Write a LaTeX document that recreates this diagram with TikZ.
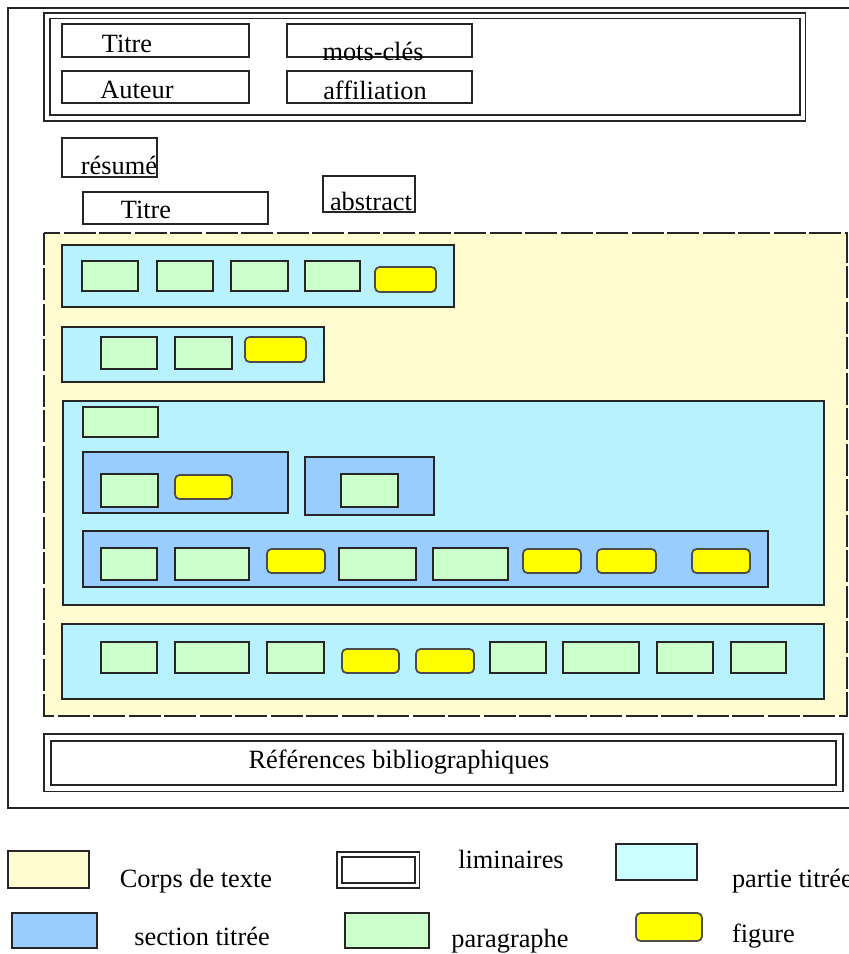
\documentclass[tikz,border=0pt]{standalone}
\usepackage{fontspec}
\setmainfont{Liberation Serif}
\usepackage{tikz}
\definecolor{corpsfond}{HTML}{FFFCD2}
\definecolor{partiefond}{HTML}{B8F2FF}
\definecolor{partieleg}{HTML}{CCFFFF}
\definecolor{sectfond}{HTML}{99CCFF}
\definecolor{parafond}{HTML}{CCFFCC}
\definecolor{figfond}{HTML}{FFFF00}
\xdef\LWB{1pt}
\xdef\ColorTrait{black!85}
\xdef\ColorFig{black!70}

\begin{document}
\begin{tikzpicture}[x=0.02cm,y=-0.02cm,inner sep=0,outer sep=0,line width=\LWB,
 txt/.style={font=\fontsize{15}{17}\selectfont,anchor=base},
 boite/.style={draw=\ColorTrait},
 lim/.style={draw=\ColorTrait,double=white,double distance=0.08cm},
 corps/.style={draw=\ColorTrait,fill=corpsfond,dash pattern=on 0.64cm off 0.07cm},
 partie/.style={draw=\ColorTrait,fill=partiefond},
 sect/.style={draw=\ColorTrait,fill=sectfond},
 para/.style={draw=\ColorTrait,fill=parafond},
 fig/.style={draw=\ColorFig,fill=figfond,rounded corners=0.09cm}]
\useasboundingbox (0,0) rectangle (849,954);
% page
\draw[\ColorTrait] (880,8)--(8,8)--(8,808)--(880,808);
% liminaires
\draw[lim] (47,15.5) rectangle (802.5,118);
\draw[boite] (62,24) rectangle (249,57) (62,71) rectangle (249,103) (287,24) rectangle (472,57) (287,71) rectangle (472,103);
\node[txt] (titre) at (127,52) {Titre};
\node[txt] (auteur) at (137,98) {Auteur};
\node[txt] (motscles) at (373,60) {mots-clés};
\node[txt] (affil) at (375,99) {affiliation};
\draw[boite] (62,138) rectangle (157,177) (83,192) rectangle (268,224) (323,176) rectangle (415,212);
\node[txt] (resume) at (119,174) {résumé};
\node[txt] (titreres) at (146,218) {Titre};
\node[txt] (abstract) at (371,210) {abstract};
% corps de texte
\draw[corps] (44,233) rectangle (847,716);
\draw[partie] (62,245) rectangle (454,307);
\draw[para] (82,261) rectangle (138,291) (157,261) rectangle (213,291) (231,261) rectangle (288,291) (305,261) rectangle (360,291);
\draw[fig] (375,267) rectangle (436,292);
\draw[partie] (62,327) rectangle (324,382);
\draw[para] (101,337) rectangle (157,369) (175,337) rectangle (232,369);
\draw[fig] (245,337) rectangle (306,362);
\draw[partie] (63,401) rectangle (824,605);
\draw[para] (83,407) rectangle (158,437);
\draw[sect] (83,452) rectangle (288,513) (305,457) rectangle (434,515);
\draw[para] (101,474) rectangle (158,507) (341,474) rectangle (398,507);
\draw[fig] (175,475) rectangle (232,499);
\draw[sect] (83,531) rectangle (768,587);
\draw[para] (101,548) rectangle (157,580) (175,548) rectangle (249,580) (339,548) rectangle (416,580) (433,548) rectangle (508,580);
\draw[fig] (267,549) rectangle (325,573) (523,549) rectangle (581,573) (597,549) rectangle (656,573) (692,549) rectangle (750,573);
\draw[partie] (62,624) rectangle (824,699);
\draw[para] (101,642) rectangle (157,673) (175,642) rectangle (249,673) (267,642) rectangle (324,673) (490,642) rectangle (546,673) (563,642) rectangle (639,673) (657,642) rectangle (713,673) (731,642) rectangle (786,673);
\draw[fig] (342,649) rectangle (399,673) (416,649) rectangle (474,673);
% references
\draw[lim,double distance=0.1cm] (47.5,737.5) rectangle (839.5,788);
\node[txt] (refs) at (399,768) {Références bibliographiques};
% legende
\draw[boite,fill=corpsfond] (8,851) rectangle (89,888);
\node[txt] (legcorps) at (196,887) {Corps de texte};
\draw[lim,double distance=0.06cm] (339.5,854.5) rectangle (417,885.5);
\node[txt] (leglim) at (511,868) {liminaires};
\draw[boite,fill=partieleg] (616,844) rectangle (697,880);
\node[txt,anchor=base west] (legpartie) at (732,887) {partie titrée};
\draw[sect] (12,913) rectangle (97,948);
\node[txt] (legsect) at (202,945) {section titrée};
\draw[para] (345,913) rectangle (429,948);
\node[txt] (legpara) at (510,947) {paragraphe};
\draw[fig] (636,913) rectangle (702,941);
\node[txt,anchor=base west] (legfig) at (732,942) {figure};
\end{tikzpicture}
\end{document}
